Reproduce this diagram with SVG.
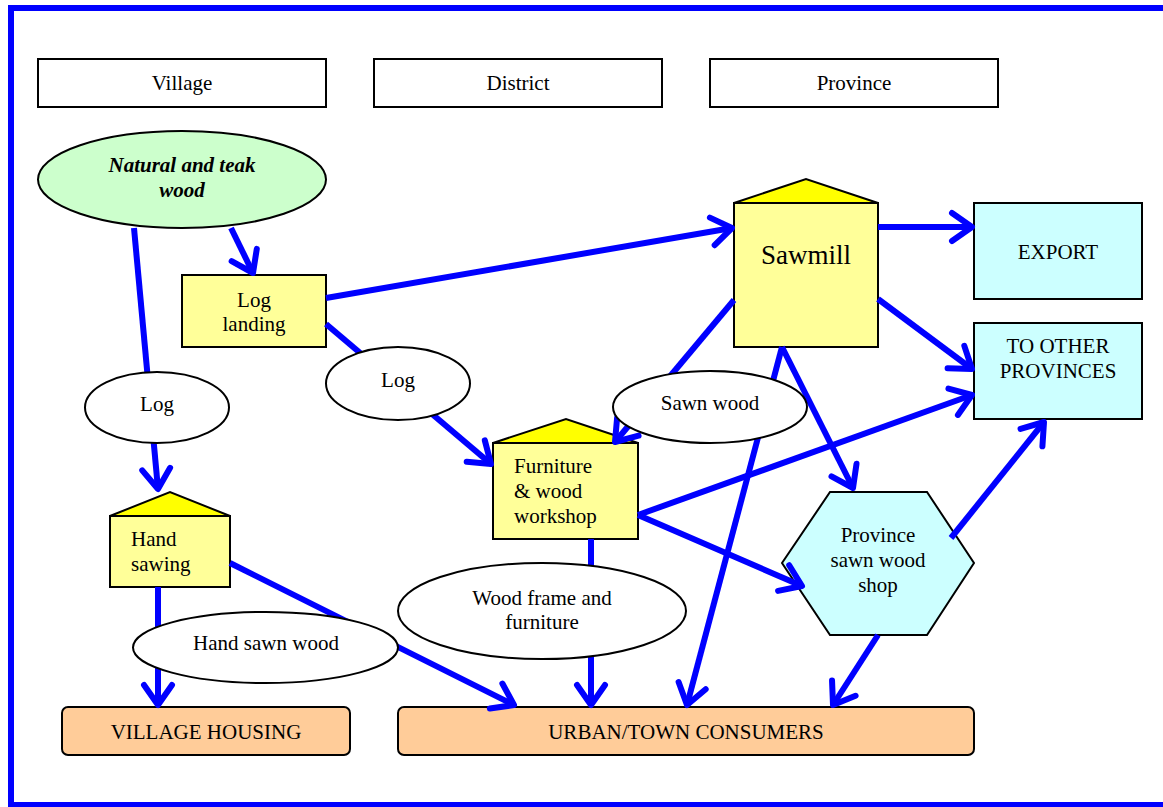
<svg xmlns="http://www.w3.org/2000/svg" width="1163" height="807" viewBox="0 0 1163 807">
  <style>
    text { font-family: "Liberation Serif", "Times New Roman", serif; font-size: 21px; fill: #000; }
    text.big { font-size: 27px; }
    .mid { text-anchor: middle; }
    .box { fill: #ffffff; stroke: #000; stroke-width: 2; }
    .yel { fill: #ffff99; stroke: #000; stroke-width: 2; }
    .roof { fill: #ffff00; stroke: #000; stroke-width: 2; stroke-linejoin: miter; }
    .cyan { fill: #ccffff; stroke: #000; stroke-width: 2; }
    .dest { fill: #ffcc99; stroke: #000; stroke-width: 2; }
    .lbl { fill: #ffffff; stroke: #000; stroke-width: 2; }
    .flow { fill: none; stroke: #0000ff; stroke-width: 6; }
    .arr { marker-end: url(#chev); }
  </style>
  <defs>
    <marker id="chev" markerUnits="userSpaceOnUse" viewBox="-30 -20 40 40" markerWidth="40" markerHeight="40" refX="0" refY="0" orient="auto" overflow="visible">
      <path d="M-20,-14 L0,0 L-20,14" fill="none" stroke="#0000ff" stroke-width="6" stroke-linecap="round" stroke-linejoin="round"/>
    </marker>
  </defs>

  <rect x="0" y="0" width="1163" height="807" fill="#ffffff"/>
  <!-- frame -->
  <rect x="11" y="8" width="1160" height="797" fill="none" stroke="#0000ff" stroke-width="6"/>

  <!-- level headers -->
  <g id="hdr-village"><rect class="box" x="38" y="59" width="288" height="48"/><text class="mid" x="182" y="90">Village</text></g>
  <g id="hdr-district"><rect class="box" x="374" y="59" width="288" height="48"/><text class="mid" x="518" y="90">District</text></g>
  <g id="hdr-province"><rect class="box" x="710" y="59" width="288" height="48"/><text class="mid" x="854" y="90">Province</text></g>

  <!-- source -->
  <g id="natural-wood">
    <ellipse cx="182" cy="179.5" rx="144" ry="48.5" fill="#ccffcc" stroke="#000" stroke-width="2"/>
    <text class="mid" x="182" y="172" font-weight="bold" font-style="italic">Natural and teak</text>
    <text class="mid" x="182" y="197" font-weight="bold" font-style="italic">wood</text>
  </g>

  <g id="log-landing">
    <rect class="yel" x="182" y="275" width="144" height="72"/>
    <text class="mid" x="254" y="307">Log</text>
    <text class="mid" x="254" y="331">landing</text>
  </g>

  <g id="sawmill">
    <polygon class="roof" points="734,203 806,179 878,203"/>
    <rect class="yel" x="734" y="203" width="144" height="144"/>
    <text class="mid big" x="806" y="264">Sawmill</text>
  </g>

  <g id="export">
    <rect class="cyan" x="974" y="203" width="168" height="96"/>
    <text class="mid" x="1058" y="259">EXPORT</text>
  </g>

  <g id="other-provinces">
    <rect class="cyan" x="974" y="323" width="168" height="96"/>
    <text class="mid" x="1058" y="353">TO OTHER</text>
    <text class="mid" x="1058" y="378">PROVINCES</text>
  </g>

  <g id="furniture-workshop">
    <polygon class="roof" points="493,443 566,419 638,443"/>
    <rect class="yel" x="493" y="443" width="145" height="96"/>
    <text x="514" y="473">Furniture</text>
    <text x="514" y="498">&amp; wood</text>
    <text x="514" y="523">workshop</text>
  </g>

  <g id="hand-sawing">
    <polygon class="roof" points="110,516 170,492 230,516"/>
    <rect class="yel" x="110" y="516" width="120" height="71"/>
    <text x="131" y="546">Hand</text>
    <text x="131" y="571">sawing</text>
  </g>

  <g id="province-shop">
    <polygon class="cyan" points="782,563 830,492 927,492 974,563 927,635 830,635"/>
    <text class="mid" x="878" y="542">Province</text>
    <text class="mid" x="878" y="567">sawn wood</text>
    <text class="mid" x="878" y="592">shop</text>
  </g>

  <g id="village-housing">
    <rect class="dest" x="62" y="707" width="288" height="48" rx="6"/>
    <text class="mid" x="206" y="739">VILLAGE HOUSING</text>
  </g>

  <g id="urban-consumers">
    <rect class="dest" x="398" y="707" width="576" height="48" rx="6"/>
    <text class="mid" x="686" y="739">URBAN/TOWN CONSUMERS</text>
  </g>

  <!-- flows -->
  <g id="connectors">
    <line class="flow arr" x1="231" y1="228" x2="253" y2="273"/>
    <line class="flow arr" x1="134" y1="228" x2="158" y2="489"/>
    <line class="flow arr" x1="326" y1="298" x2="732" y2="228"/>
    <line class="flow arr" x1="326" y1="324" x2="491" y2="464"/>
    <line class="flow arr" x1="878" y1="227" x2="972" y2="227"/>
    <line class="flow arr" x1="878" y1="299" x2="972" y2="369"/>
    <line class="flow arr" x1="734" y1="300" x2="615" y2="442"/>
    <line class="flow arr" x1="782" y1="347" x2="687" y2="705"/>
    <line class="flow arr" x1="782" y1="347" x2="853" y2="488"/>
    <line class="flow arr" x1="638" y1="515" x2="972" y2="395"/>
    <line class="flow arr" x1="638" y1="515" x2="802" y2="586"/>
    <line class="flow arr" x1="591" y1="539" x2="591" y2="705"/>
    <line class="flow arr" x1="158" y1="587" x2="158" y2="705"/>
    <line class="flow arr" x1="230" y1="563" x2="514" y2="705"/>
    <line class="flow arr" x1="878" y1="635" x2="833" y2="705"/>
    <line class="flow arr" x1="951" y1="538" x2="1044" y2="422"/>
  </g>

  <!-- product labels -->
  <g id="lbl-log-a"><ellipse class="lbl" cx="157" cy="407.5" rx="72" ry="35.5"/><text class="mid" x="157" y="411">Log</text></g>
  <g id="lbl-log-b"><ellipse class="lbl" cx="398" cy="383.5" rx="72" ry="36.5"/><text class="mid" x="398" y="387">Log</text></g>
  <g id="lbl-sawn-wood"><ellipse class="lbl" cx="710" cy="407" rx="97" ry="36"/><text class="mid" x="710" y="410">Sawn wood</text></g>
  <g id="lbl-hand-sawn"><ellipse class="lbl" cx="265.5" cy="647.5" rx="132.5" ry="35.5"/><text class="mid" x="266" y="650">Hand sawn wood</text></g>
  <g id="lbl-frame"><ellipse class="lbl" cx="542" cy="611" rx="144" ry="48"/><text class="mid" x="542" y="605">Wood frame and</text><text class="mid" x="542" y="629">furniture</text></g>
</svg>
